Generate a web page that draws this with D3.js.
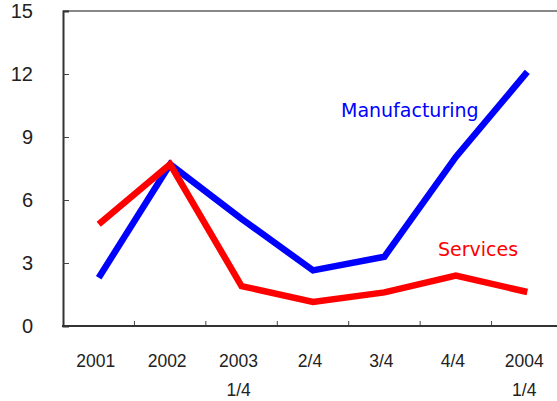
<!DOCTYPE html>
<html>
<head>
<meta charset="utf-8">
<script src="https://cdn.jsdelivr.net/npm/d3@7/dist/d3.min.js"></script>
<style>
  html, body { margin: 0; padding: 0; background: #fff; }
  svg { display: block; }
</style>
</head>
<body>
<svg id="chart" width="557" height="401"></svg>
<script>
// Period labels (second line shown under some of them)
const periods = ["2001", "2002", "2003", "2/4", "3/4", "4/4", "2004"];
const periodSub = ["", "", "1/4", "", "", "", "1/4"];
// Growth by sector
const manufacturing = [2.3, 7.7, 5.1, 2.65, 3.3, 8.05, 12.1];
const services = [4.85, 7.7, 1.9, 1.15, 1.6, 2.4, 1.62];
const yTicks = [0, 3, 6, 9, 12, 15];

(function () {
const svg = d3.select("#chart");
const plotLeft = 63, plotRight = 563, plotTop = 11, plotBottom = 326;

const x = d3.scaleBand().domain(periods).range([plotLeft, plotRight]);
const y = d3.scaleLinear().domain([0, 15]).range([plotBottom, plotTop]);

// frame top line
svg.append("line")
  .attr("x1", plotLeft).attr("x2", 557)
  .attr("y1", y(15)).attr("y2", y(15))
  .attr("stroke", "#888").attr("stroke-width", 2);

// y axis with inward ticks
const yAxis = svg.append("g").attr("transform", `translate(${plotLeft},0)`)
  .call(d3.axisRight(y).tickValues(yTicks).tickSize(6).tickFormat(""));
yAxis.select(".domain").attr("stroke", "#333").attr("stroke-width", 2);
yAxis.selectAll(".tick line").attr("stroke", "#444").attr("stroke-width", 1);
yAxis.selectAll(".tick").filter(d => d === 0 || d === 15).select("line").remove();

svg.append("g").selectAll("text").data(yTicks).join("text")
  .attr("x", 33).attr("y", d => y(d) + 7)
  .attr("text-anchor", "end")
  .attr("font-family", "Liberation Sans, Arial, sans-serif")
  .attr("font-size", 20)
  .attr("fill", "#222")
  .text(d => d);

// x axis with upward ticks at band boundaries
const boundaries = periods.slice(1).map(p => x(p));
svg.append("g").selectAll("line").data(boundaries).join("line")
  .attr("x1", d => d).attr("x2", d => d)
  .attr("y1", plotBottom).attr("y2", plotBottom - 5)
  .attr("stroke", "#444").attr("stroke-width", 1);
svg.append("line")
  .attr("x1", plotLeft - 1).attr("x2", 557)
  .attr("y1", plotBottom).attr("y2", plotBottom)
  .attr("stroke", "#333").attr("stroke-width", 2);

const cx = p => x(p) + x.bandwidth() / 2;
const xl = svg.append("g")
  .attr("font-family", "Liberation Sans, Arial, sans-serif")
  .attr("font-size", 17.5).attr("fill", "#222").attr("text-anchor", "middle");
xl.selectAll("text.main").data(periods).join("text")
  .attr("class", "main")
  .attr("x", p => cx(p) - 3).attr("y", 367)
  .text(p => p);
xl.selectAll("text.sub").data(periods.map((p, i) => [p, periodSub[i]]).filter(d => d[1]))
  .join("text").attr("class", "sub")
  .attr("x", d => cx(d[0]) - 3).attr("y", 396)
  .text(d => d[1]);

// series lines
const line = d3.line().x((d, i) => cx(periods[i])).y(d => y(d));
svg.append("path").datum(manufacturing)
  .attr("d", line).attr("fill", "none")
  .attr("stroke", "#0000ff").attr("stroke-width", 6.5)
  .attr("stroke-linejoin", "miter");
svg.append("path").datum(services)
  .attr("d", line).attr("fill", "none")
  .attr("stroke", "#ff0000").attr("stroke-width", 6.5)
  .attr("stroke-linejoin", "miter");

// series names
svg.append("text")
  .attr("x", 341).attr("y", 117)
  .attr("font-family", "DejaVu Sans, sans-serif").attr("font-size", 19)
  .attr("fill", "#0000ff").text("Manufacturing");
svg.append("text")
  .attr("x", 438).attr("y", 256)
  .attr("font-family", "DejaVu Sans, sans-serif").attr("font-size", 19)
  .attr("fill", "#ff0000").text("Services");
})();
</script>
</body>
</html>
